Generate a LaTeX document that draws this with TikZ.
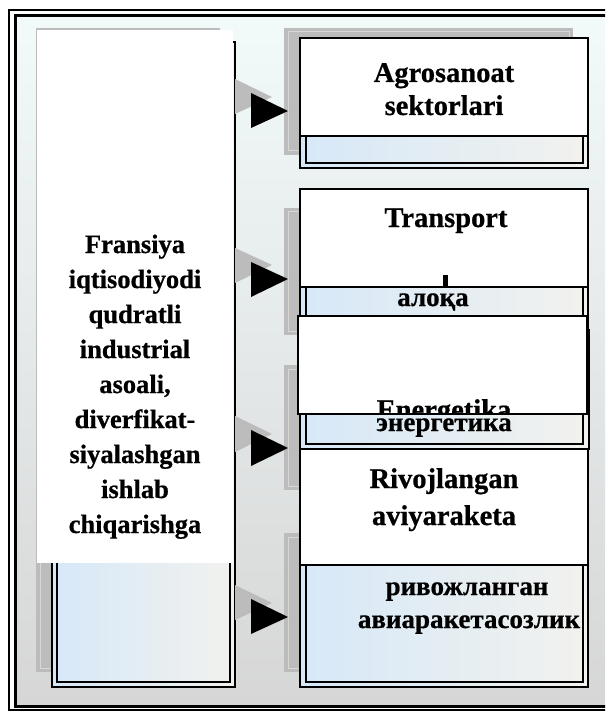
\documentclass[tikz,border=0pt]{standalone}
\usepackage{fontspec}
\setmainfont{Liberation Serif}
\newfontfamily\heavyfont[FakeBold=0.7]{Liberation Serif Bold}
\definecolor{shadowgray}{HTML}{BCBCBC}
\definecolor{shadowline}{HTML}{D8D8D8}
\definecolor{photoblue}{HTML}{D6E8F8}
\definecolor{photowhite}{HTML}{F2F2EE}
\definecolor{bgtop}{HTML}{F2FAFA}
\definecolor{bgmid}{HTML}{EAEDED}
\definecolor{bgbot}{HTML}{D6D6D6}
\tikzset{
  lefttext/.style={font=\heavyfont\fontsize{26.5}{35}\selectfont, anchor=base, inner sep=0pt},
  righttext/.style={font=\heavyfont\fontsize{28.5}{33}\selectfont, anchor=base, inner sep=0pt},
  cyrtext/.style={font=\heavyfont\fontsize{27}{33}\selectfont, anchor=base, inner sep=0pt},
  shadowbox/.style={fill=shadowgray},
  shadowinner/.style={draw=shadowline, line width=1pt},
  photofill/.style={left color=photoblue, right color=photowhite},
  outerline/.style={draw=black, line width=1.6pt},
  innerline/.style={draw=black, line width=1.1pt},
  whitebox/.style={fill=white, draw=black, line width=1.2pt},
  arrowshadow/.style={fill=shadowgray},
  arrowhead/.style={fill=black}
}
\begin{document}
\begin{tikzpicture}[x=1pt,y=-1pt]
\useasboundingbox (0,0) rectangle (605,711);
\clip (0,0) rectangle (605,711);
\fill[white] (0,0) rectangle (605,711);
% background inside frame
\shade[top color=bgtop, middle color=bgmid, bottom color=bgbot] (15,15) rectangle (620,706);
% outer frame
\draw[line width=1.2pt] (9,10) rectangle (640,710);
\draw[line width=2.2pt] (15.5,15.5) rectangle (640,706.5);

% ---------- left column ----------
\fill[shadowbox] (36,28) rectangle (220,672);
\draw[shadowinner] (40,32) rectangle (216,668);
\fill[photofill] (52,42) rectangle (236,687);
\draw[outerline] (52,42) rectangle (235,687);
\draw[innerline] (57,47) rectangle (230,682);
\fill[white] (37,30) rectangle (233,563);

\node[lefttext] (l1) at (135,253) {Fransiya};
\node[lefttext] (l2) at (135,288) {iqtisodiyodi};
\node[lefttext] (l3) at (135,323) {qudratli};
\node[lefttext] (l4) at (135,358) {industrial};
\node[lefttext] (l5) at (135,393) {asoali,};
\node[lefttext] (l6) at (135,428) {diverfikat-};
\node[lefttext] (l7) at (135,463) {siyalashgan};
\node[lefttext] (l8) at (135,498) {ishlab};
\node[lefttext] (l9) at (135,533) {chiqarishga};

% ---------- right column shadows ----------
\fill[shadowbox] (284,28) rectangle (573,155);
\draw[shadowinner] (288,32) rectangle (569,151);
\fill[shadowbox] (284,208) rectangle (573,335);
\draw[shadowinner] (288,212) rectangle (569,331);
\fill[shadowbox] (284,365) rectangle (573,490);
\draw[shadowinner] (288,369) rectangle (569,486);
\fill[shadowbox] (284,533) rectangle (573,672);
\draw[shadowinner] (288,537) rectangle (569,668);

% ---------- arrows ----------
\fill[arrowshadow] (235,79) -- (272,97) -- (235,114) -- cycle;
\fill[arrowshadow] (235,248) -- (272,265) -- (235,283) -- cycle;
\fill[arrowshadow] (235,416) -- (272,434) -- (235,452) -- cycle;
\fill[arrowshadow] (235,585) -- (272,603) -- (235,620) -- cycle;
\fill[arrowhead] (251,93) -- (288,111) -- (251,128) -- cycle;
\fill[arrowhead] (251,262) -- (288,279) -- (251,297) -- cycle;
\fill[arrowhead] (251,430) -- (288,448) -- (251,466) -- cycle;
\fill[arrowhead] (251,599) -- (288,617) -- (251,634) -- cycle;

% ---------- box 1 ----------
\fill[photofill] (300,38) rectangle (588,168);
\draw[outerline] (300,38) rectangle (588,168);
\draw[innerline] (306,44) rectangle (583,163);
\draw[whitebox] (300,38) rectangle (588,136);
\node[righttext] (a1) at (444,82) {Agrosanoat};
\node[righttext] (a2) at (444,115) {sektorlari};

% ---------- box 2 ----------
\fill[photofill] (300,189) rectangle (588,330);
\draw[outerline] (300,189) rectangle (588,330);
\draw[innerline] (306,195) rectangle (583,325);
\draw[whitebox] (300,189) rectangle (588,287);
\node[righttext] (b1) at (446,227) {Transport};
\fill[black] (443,275) rectangle (448,287);
\node[cyrtext] (b2) at (433,306) {алоқа};

% ---------- box 3 ----------
\fill[photofill] (300,330) rectangle (589,449);
\draw[outerline] (300,330) rectangle (589,449);
\draw[innerline] (306,336) rectangle (583,444);
\draw[whitebox] (298,316) rectangle (587,414);
\begin{scope}
\clip (299,317) rectangle (586,413.4);
\node[righttext] (c1) at (444,419) {Energetika};
\end{scope}
\node[cyrtext] (c2) at (444,431) {энергетика};

% ---------- box 4 ----------
\fill[photofill] (300,449) rectangle (588,687);
\draw[outerline] (300,449) rectangle (588,687);
\draw[innerline] (306,455) rectangle (583,682);
\draw[whitebox] (300,449) rectangle (588,565);
\node[righttext] (d1) at (444,488) {Rivojlangan};
\node[righttext] (d2) at (444,525) {aviyaraketa};
\node[cyrtext] (d3) at (467,595) {ривожланган};
\node[cyrtext] (d4) at (469,628) {авиаракетасозлик};
\end{tikzpicture}
\end{document}
